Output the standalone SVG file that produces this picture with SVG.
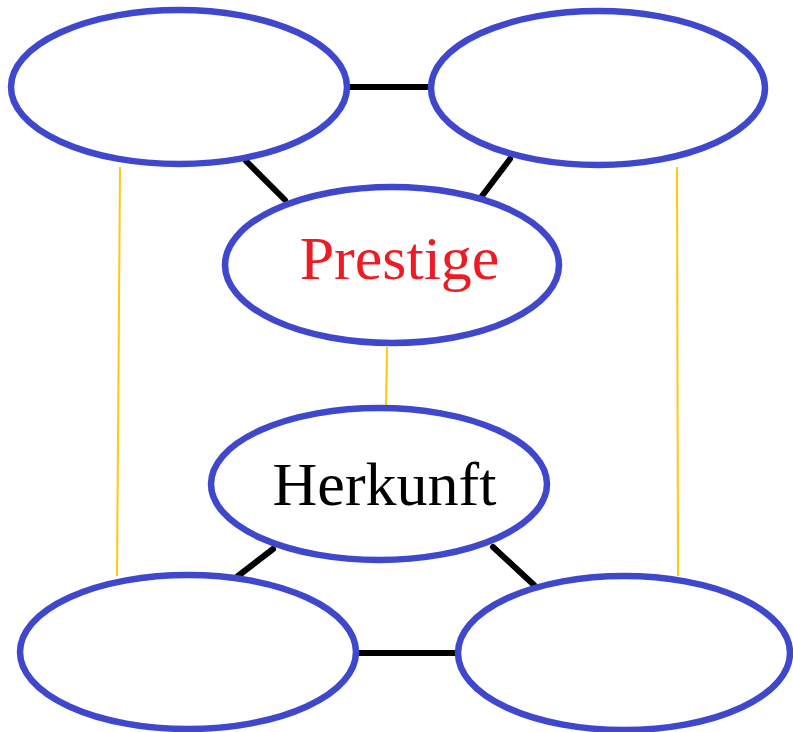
<svg xmlns="http://www.w3.org/2000/svg" width="793" height="732" viewBox="0 0 793 732">
<style>
.node{fill:#fff;stroke:#3f48cc;stroke-width:6.5}
.edge{stroke:#000;stroke-width:6;stroke-linecap:round;fill:none}
.link{stroke:#ffc90e;stroke-width:2;fill:none}
.lbl{font-family:"Liberation Serif","Times New Roman",serif;font-size:62px;text-anchor:middle}
</style>
<rect width="793" height="732" fill="#fff"/>
<g id="connectors">
<line class="link" x1="120" y1="167" x2="117" y2="576"/>
<line class="link" x1="677" y1="167" x2="678" y2="576"/>
<line class="link" x1="387" y1="347" x2="386" y2="406"/>
<line class="edge" x1="350" y1="87" x2="428" y2="87"/>
<line class="edge" x1="246" y1="161" x2="285" y2="200"/>
<line class="edge" x1="510" y1="159" x2="482" y2="196"/>
<line class="edge" x1="273" y1="549" x2="238" y2="576"/>
<line class="edge" x1="493" y1="547" x2="534" y2="585"/>
<line class="edge" x1="359" y1="653" x2="455" y2="653"/>
</g>
<g id="topLeft"><ellipse class="node" cx="179" cy="87" rx="168" ry="77"/></g>
<g id="topRight"><ellipse class="node" cx="598" cy="88" rx="167" ry="77"/></g>
<g id="prestige"><ellipse class="node" cx="392" cy="265" rx="167" ry="78"/>
<text class="lbl" x="399.5" y="279" fill="#ed1c24">Prestige</text></g>
<g id="herkunft"><ellipse class="node" cx="379" cy="484" rx="168" ry="76"/>
<text class="lbl" x="384.5" y="505" fill="#000">Herkunft</text></g>
<g id="bottomLeft"><ellipse class="node" cx="188" cy="652" rx="168" ry="77"/></g>
<g id="bottomRight"><ellipse class="node" cx="624" cy="653" rx="166" ry="77"/></g>
</svg>
